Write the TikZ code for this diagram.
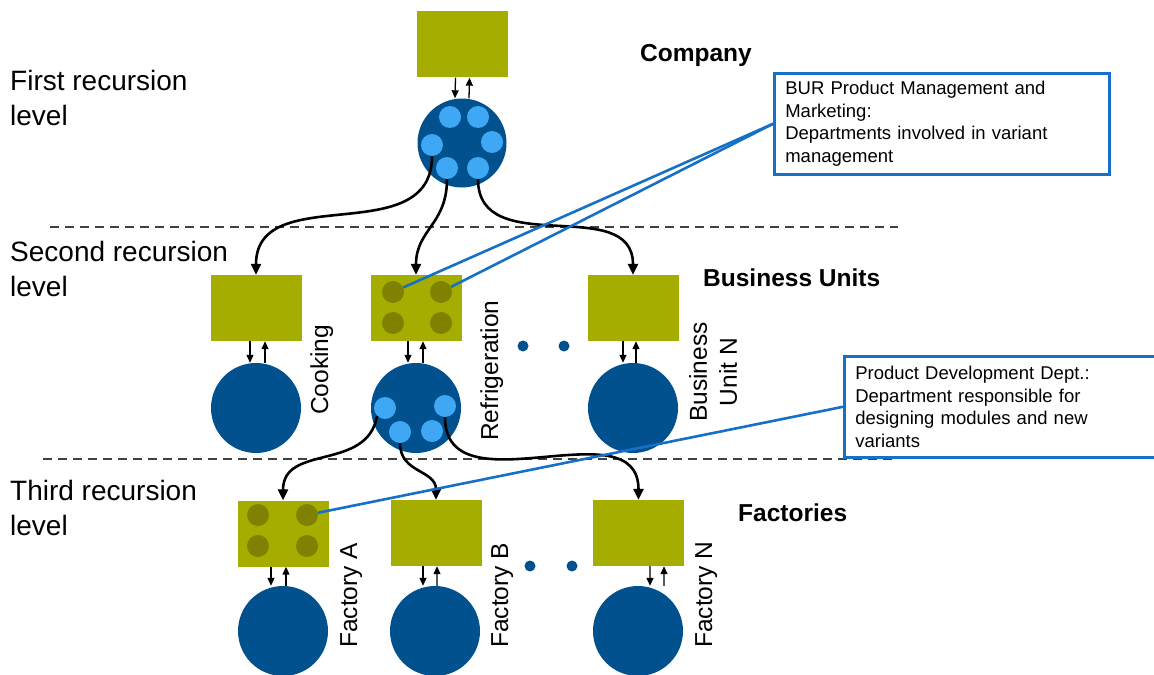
\documentclass[tikz,border=0pt]{standalone}
\usepackage{fontspec}
\setmainfont{Liberation Sans}
\usetikzlibrary{arrows.meta}
\definecolor{cOlive}{HTML}{A5AD00}
\definecolor{cOliveDk}{HTML}{7E8200}
\definecolor{cBlue}{HTML}{02518F}
\definecolor{cLight}{HTML}{3FA8F5}
\definecolor{cCall}{HTML}{1570C6}
\definecolor{cDash}{HTML}{404040}
\tikzset{
 unitbox/.style={fill=cOlive, minimum width=91bp, minimum height=66bp, inner sep=0pt},
 opcirc/.style={circle, fill=cBlue, minimum size=90bp, inner sep=0pt},
 litedot/.style={circle, fill=cLight, minimum size=22bp, inner sep=0pt},
 olivedot/.style={circle, fill=cOliveDk, minimum size=22bp, inner sep=0pt},
 elldot/.style={circle, fill=cBlue, minimum size=11bp, inner sep=0pt},
 flow/.style={line width=2.6bp, looseness=1.15, -{Triangle[length=11bp,width=10bp]}},
 link/.style={line width=1.3bp, -{Triangle[length=8bp,width=7bp]}},
 sepline/.style={draw=cDash, line width=2bp, dash pattern=on 8.5bp off 6.5bp},
 callline/.style={draw=cCall, line width=2.6bp},
 callbox/.style={draw=cCall, line width=2.6bp, fill=white, align=left, anchor=north west, inner xsep=11bp, inner ysep=0pt, minimum height=101bp, font=\fontsize{18.5bp}{22.8bp}\selectfont},
 lvl/.style={anchor=base west, align=left, inner sep=0pt, font=\fontsize{28bp}{35bp}\selectfont},
 head/.style={anchor=base west, inner sep=0pt, font=\fontsize{24.5bp}{30bp}\selectfont\bfseries},
 vlabel/.style={rotate=90, anchor=base west, inner sep=0pt, font=\fontsize{24.5bp}{30bp}\selectfont},
}
\begin{document}
\begin{tikzpicture}[x=1bp,y=-1bp]
\useasboundingbox (0,0) rectangle (1154,675);
\coordinate (s1a) at (50,227);
\coordinate (s1b) at (898,227);
\coordinate (s2a) at (43,459);
\coordinate (s2b) at (898,459);
\draw[sepline] (s1a) -- (s1b);
\draw[sepline] (s2a) -- (s2b);

% company
\node[unitbox] (coR) at (462.5,44.5) {};
\node[opcirc, minimum size=89bp] (coC) at (462,143) {};
\node[litedot] (c1) at (450,117) {};
\node[litedot] (c2) at (478,117) {};
\node[litedot] (c3) at (432,145) {};
\node[litedot] (c4) at (492,142) {};
\node[litedot] (c5) at (447,168) {};
\node[litedot] (c6) at (478,168) {};

% business units
\node[unitbox] (cookR) at (256,308) {};
\node[opcirc] (cookC) at (256,408) {};
\node[unitbox] (refR) at (416,308) {};
\node[olivedot] (o1) at (393,292) {};
\node[olivedot] (o2) at (441,292) {};
\node[olivedot] (o3) at (393,323) {};
\node[olivedot] (o4) at (441,323) {};
\node[opcirc] (refC) at (416,408) {};
\node[litedot] (r1) at (385,408) {};
\node[litedot] (r2) at (400,432) {};
\node[litedot] (r3) at (432,431) {};
\node[litedot] (r4) at (445,406) {};
\node[unitbox] (bunR) at (633,308) {};
\node[opcirc] (bunC) at (633,408) {};
\node[elldot] (e1) at (523,346) {};
\node[elldot] (e2) at (564,346) {};

% factories
\node[unitbox] (faR) at (283,533.5) {};
\node[olivedot] (f1) at (258,515) {};
\node[olivedot] (f2) at (307,515) {};
\node[olivedot] (f3) at (258,546) {};
\node[olivedot] (f4) at (307,546) {};
\node[opcirc] (faC) at (283,631) {};
\node[unitbox] (fbR) at (436,533) {};
\node[opcirc] (fbC) at (435,631) {};
\node[unitbox] (fnR) at (638.5,533) {};
\node[opcirc] (fnC) at (638,631) {};
\node[elldot] (e3) at (530,566) {};
\node[elldot] (e4) at (572,566) {};

% recursion connectors
\draw[flow] (c3.south) to[out=-90,in=90] (cookR.north);
\draw[flow] (c5.south) to[out=-90,in=90] (refR.north);
\draw[flow] (c6.south) to[out=-90,in=90] (bunR.north);
\draw[flow] (r1.south west) to[out=-100,in=90] (faR.north);
\draw[flow] (r2.south) to[out=-90,in=90] (fbR.north);
\draw[flow] (r4.south) to[out=-90,in=90] (fnR.north);

% box-circle links
\draw[link] ([xshift=-7bp]coR.south) -- ([xshift=-7bp]coC.north);
\draw[link] ([xshift=7bp]coC.north) -- ([xshift=7bp]coR.south);
\draw[link] ([xshift=-6bp]cookR.south) -- ([xshift=-6bp]cookC.north);
\draw[link] ([xshift=9bp]cookC.north) -- ([xshift=9bp]cookR.south);
\draw[link] ([xshift=-8bp]refR.south) -- ([xshift=-8bp]refC.north);
\draw[link] ([xshift=7bp]refC.north) -- ([xshift=7bp]refR.south);
\draw[link] ([xshift=-10bp]bunR.south) -- ([xshift=-10bp]bunC.north);
\draw[link] ([xshift=3bp]bunC.north) -- ([xshift=3bp]bunR.south);
\draw[link] ([xshift=-12bp]faR.south) -- ([xshift=-12bp]faC.north);
\draw[link] ([xshift=3bp]faC.north) -- ([xshift=3bp]faR.south);
\draw[link] ([xshift=-13bp]fbR.south) -- ([xshift=-12bp]fbC.north);
\draw[link] ([xshift=2bp]fbC.north) -- ([xshift=1bp]fbR.south);
\draw[link] ([xshift=11.5bp]fnR.south) -- ([xshift=12bp]fnC.north);
\draw[link] ([xshift=26bp]fnC.north) -- ([xshift=25.5bp]fnR.south);

% texts
\node[lvl] (l1) at (10,126) {First recursion\\level};
\node[lvl] (l2) at (10,296) {Second recursion\\level};
\node[lvl] (l3) at (10,535) {Third recursion\\level};
\node[head] (h1) at (640,62) {Company};
\node[head] (h2) at (703,286) {Business Units};
\node[head] (h3) at (738,521) {Factories};
\node[vlabel] (t1) at (328,415) {Cooking};
\node[vlabel] (t2) at (498,441) {Refrigeration};
\node[rotate=90, align=center, inner sep=0pt, font=\fontsize{24.5bp}{30bp}\selectfont] (t3) at (713,372) {Business\\Unit N};
\node[vlabel] (t4) at (357,648) {Factory A};
\node[vlabel] (t5) at (508,648) {Factory B};
\node[vlabel] (t6) at (712,648) {Factory N};

% callouts
\node[callbox, text width=313bp] (cb1) at (773,72) {BUR Product Management and\\Marketing:\\Departments involved in variant\\management};
\node[callbox, text width=330bp] (cb2) at (843,355) {Product Development Dept.:\\Department responsible for\\designing modules and new\\variants};
\draw[callline] (cb1.west) -- (o1);
\draw[callline] (cb1.west) -- (o2);
\draw[callline] (cb2.west) -- (f2);
\end{tikzpicture}
\end{document}
